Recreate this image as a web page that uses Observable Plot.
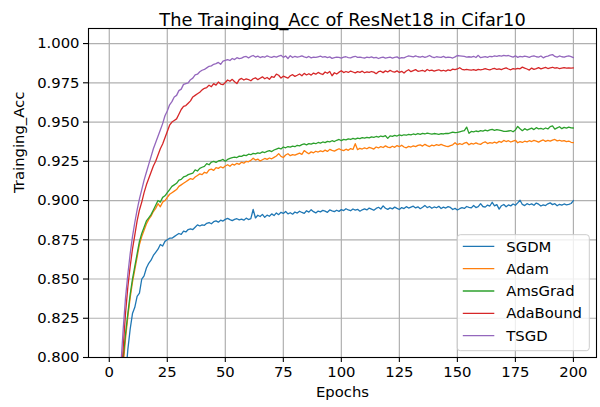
<!DOCTYPE html>
<html><head><meta charset="utf-8">
<script src="https://cdn.jsdelivr.net/npm/d3@7"></script>
<script src="https://cdn.jsdelivr.net/npm/@observablehq/plot@0.6"></script>
<style>html,body{margin:0;padding:0;background:#fff}</style>
</head><body><div id="chart"></div>
<script>
const titleText = "The Trainging_Acc of ResNet18 in Cifar10";
const xLabel = "Epochs";
const yLabel = "Trainging_Acc";
const seriesNames = ["SGDM", "Adam", "AmsGrad", "AdaBound", "TSGD"];
const seriesColors = ["#1f77b4", "#ff7f0e", "#2ca02c", "#d62728", "#9467bd"];
const xTicks = [0, 25, 50, 75, 100, 125, 150, 175, 200];
const yTicks = [0.800, 0.825, 0.850, 0.875, 0.900, 0.925, 0.950, 0.975, 1.000];
const epochs = d3.range(1, 201);

const sgdm = [0.320,0.470,0.580,0.660,0.720,0.760,0.787,0.805,0.818,0.828,
0.832,0.839,0.841,0.850,0.852,0.857,0.860,0.862,0.865,0.867,
0.869,0.872,0.871,0.874,0.875,0.876,0.876,0.877,0.878,0.879,
0.8785,0.8805,0.880,0.8815,0.882,0.8815,0.883,0.8845,0.8838,0.8845,
0.8842,0.8855,0.8860,0.8852,0.8865,0.8870,0.8862,0.8875,0.8869,0.8880,
0.8886,0.8878,0.8872,0.8880,0.8884,0.8877,0.8882,0.8875,0.8888,0.8879,
0.8885,0.8943,0.8889,0.8906,0.8898,0.8912,0.8893,0.8907,0.8900,0.8915,
0.8904,0.8921,0.8910,0.8925,0.8918,0.8930,0.8915,0.8922,0.8913,0.8927,
0.8920,0.8932,0.8924,0.8918,0.8935,0.8926,0.8942,0.8929,0.8921,0.8933,
0.8928,0.8937,0.8932,0.8925,0.8940,0.8934,0.8929,0.8938,0.8931,0.8942,
0.8936,0.8948,0.8940,0.8935,0.8946,0.8939,0.8944,0.8932,0.8941,0.8947,
0.8940,0.8952,0.8945,0.8938,0.8950,0.8957,0.8946,0.8966,0.8951,0.8944,
0.8953,0.8947,0.8958,0.8950,0.8943,0.8955,0.8949,0.8961,0.8952,0.8958,
0.8964,0.8953,0.8960,0.8948,0.8957,0.8969,0.8955,0.8962,0.8951,0.8959,
0.8954,0.8963,0.8949,0.8958,0.8952,0.8961,0.8956,0.8943,0.8950,0.8940,
0.8948,0.8955,0.8950,0.8962,0.8957,0.8953,0.8968,0.8955,0.8961,0.8980,
0.8962,0.8958,0.8971,0.8965,0.8989,0.8966,0.8974,0.8945,0.8967,0.8975,
0.8960,0.8972,0.8966,0.8978,0.8970,0.8985,0.9002,0.8975,0.8968,0.8980,
0.8973,0.8979,0.8970,0.8984,0.8977,0.8965,0.8972,0.8968,0.8979,0.8985,
0.8974,0.8980,0.8967,0.8976,0.8971,0.8978,0.8973,0.8975,0.8981,0.9000];

const adam = [0.360,0.530,0.640,0.710,0.760,0.795,0.812,0.826,0.838,0.848,
0.856,0.864,0.872,0.877,0.881,0.885,0.888,0.890,0.893,0.895,
0.898,0.896,0.899,0.900,0.902,0.904,0.905,0.906,0.907,0.909,
0.910,0.911,0.912,0.913,0.914,0.9135,0.915,0.916,0.917,0.9165,
0.918,0.9175,0.9195,0.9200,0.9192,0.9210,0.9205,0.9215,0.9208,0.9220,
0.9228,0.9218,0.9232,0.9226,0.9237,0.9231,0.9244,0.9238,0.9250,0.9247,
0.9256,0.9270,0.9258,0.9264,0.9252,0.9260,0.9268,0.9262,0.9271,0.9266,
0.9275,0.9284,0.9299,0.9281,0.9274,0.9290,0.9298,0.9286,0.9293,0.9289,
0.9296,0.9302,0.9294,0.9318,0.9307,0.9298,0.9310,0.9304,0.9314,0.9309,
0.9316,0.9311,0.9321,0.9313,0.9326,0.9319,0.9315,0.9323,0.9330,0.9322,
0.9318,0.9327,0.9320,0.9331,0.9325,0.9362,0.9324,0.9333,0.9328,0.9336,
0.9330,0.9339,0.9334,0.9328,0.9341,0.9335,0.9344,0.9338,0.9348,0.9340,
0.9337,0.9346,0.9339,0.9350,0.9343,0.9352,0.9341,0.9336,0.9345,0.9341,
0.9348,0.9343,0.9351,0.9355,0.9347,0.9358,0.9350,0.9344,0.9353,0.9349,
0.9356,0.9351,0.9358,0.9352,0.9347,0.9343,0.9350,0.9355,0.9368,0.9356,
0.9362,0.9357,0.9366,0.9370,0.9355,0.9364,0.9360,0.9367,0.9361,0.9358,
0.9368,0.9374,0.9363,0.9369,0.9365,0.9372,0.9366,0.9377,0.9371,0.9383,
0.9376,0.9381,0.9373,0.9379,0.9384,0.9368,0.9375,0.9370,0.9378,0.9374,
0.9381,0.9376,0.9383,0.9379,0.9372,0.9380,0.9386,0.9377,0.9383,0.9378,
0.9385,0.9389,0.9380,0.9384,0.9378,0.9382,0.9375,0.9379,0.9371,0.9369];

const amsgrad = [0.380,0.550,0.650,0.720,0.770,0.800,0.815,0.828,0.840,0.850,
0.858,0.866,0.874,0.879,0.883,0.887,0.889,0.891,0.894,0.897,
0.900,0.899,0.902,0.903,0.905,0.907,0.909,0.910,0.911,0.913,
0.9135,0.915,0.9155,0.9165,0.917,0.9175,0.9195,0.9188,0.9205,0.9212,
0.9218,0.9235,0.9228,0.9245,0.9250,0.9243,0.9252,0.9255,0.9262,0.9250,
0.9262,0.9268,0.9273,0.9277,0.9274,0.9283,0.9281,0.9289,0.9286,0.9295,
0.9292,0.9300,0.9297,0.9304,0.9301,0.9310,0.9306,0.9313,0.9318,0.9312,
0.9322,0.9328,0.9334,0.9329,0.9341,0.9336,0.9344,0.9340,0.9347,0.9343,
0.9352,0.9348,0.9356,0.9361,0.9355,0.9363,0.9359,0.9366,0.9362,0.9370,
0.9366,0.9373,0.9369,0.9377,0.9374,0.9381,0.9376,0.9384,0.9389,0.9382,
0.9390,0.9386,0.9393,0.9389,0.9396,0.9391,0.9398,0.9395,0.9401,0.9397,
0.9403,0.9399,0.9406,0.9402,0.9408,0.9404,0.9411,0.9407,0.9413,0.9396,
0.9412,0.9409,0.9415,0.9411,0.9418,0.9413,0.9419,0.9416,0.9422,0.9418,
0.9424,0.9420,0.9427,0.9422,0.9428,0.9424,0.9430,0.9426,0.9423,0.9427,
0.9425,0.9421,0.9426,0.9424,0.9428,0.9427,0.9431,0.9436,0.9432,0.9434,
0.9438,0.9442,0.9446,0.9468,0.9428,0.9440,0.9437,0.9443,0.9439,0.9445,
0.9442,0.9448,0.9444,0.9450,0.9453,0.9447,0.9452,0.9449,0.9445,0.9441,
0.9440,0.9443,0.9446,0.9438,0.9450,0.9472,0.9457,0.9445,0.9458,0.9449,
0.9455,0.9461,0.9452,0.9464,0.9457,0.9460,0.9454,0.9462,0.9456,0.9471,
0.9475,0.9455,0.9463,0.9470,0.9458,0.9466,0.9461,0.9468,0.9463,0.9462];

const adabound = [0.430,0.590,0.680,0.740,0.780,0.806,0.828,0.845,0.858,0.869,
0.878,0.887,0.894,0.899,0.905,0.910,0.914,0.918,0.922,0.925,
0.929,0.933,0.936,0.940,0.944,0.948,0.950,0.951,0.952,0.955,
0.958,0.960,0.9605,0.962,0.9635,0.966,0.967,0.968,0.969,0.9705,
0.9715,0.972,0.9735,0.9725,0.9745,0.9735,0.9755,0.9742,0.9738,0.9752,
0.9768,0.9760,0.9772,0.9757,0.9745,0.9770,0.9778,0.9768,0.9775,0.9771,
0.9763,0.9776,0.9782,0.9770,0.9779,0.9788,0.9776,0.9784,0.9772,0.9790,
0.9785,0.9805,0.9798,0.9780,0.9792,0.9786,0.9780,0.9795,0.9802,0.9791,
0.9798,0.9806,0.9795,0.9810,0.9800,0.9808,0.9799,0.9812,0.9805,0.9816,
0.9809,0.9803,0.9819,0.9811,0.9822,0.9795,0.9814,0.9806,0.9818,0.9827,
0.9815,0.9822,0.9816,0.9825,0.9819,0.9813,0.9821,0.9817,0.9824,0.9814,
0.9820,0.9816,0.9822,0.9818,0.9808,0.9821,0.9824,0.9815,0.9826,0.9819,
0.9829,0.9822,0.9818,0.9826,0.9816,0.9823,0.9812,0.9825,0.9833,0.9821,
0.9828,0.9834,0.9823,0.9826,0.9830,0.9822,0.9835,0.9827,0.9831,0.9824,
0.9829,0.9833,0.9826,0.9830,0.9825,0.9832,0.9828,0.9837,0.9834,0.9838,
0.9846,0.9836,0.9832,0.9835,0.9833,0.9831,0.9834,0.9829,0.9836,0.9833,
0.9835,0.9840,0.9836,0.9833,0.9838,0.9842,0.9835,0.9839,0.9834,0.9841,
0.9845,0.9838,0.9833,0.9840,0.9837,0.9842,0.9839,0.9850,0.9843,0.9838,
0.9831,0.9844,0.9836,0.9841,0.9847,0.9839,0.9844,0.9848,0.9841,0.9845,
0.9849,0.9843,0.9846,0.9841,0.9844,0.9847,0.9843,0.9845,0.9844,0.9845];

const tsgd = [0.460,0.620,0.700,0.755,0.795,0.818,0.838,0.853,0.866,0.877,
0.886,0.894,0.901,0.907,0.913,0.918,0.923,0.928,0.933,0.937,
0.941,0.945,0.949,0.954,0.957,0.961,0.963,0.966,0.967,0.970,
0.971,0.974,0.9745,0.975,0.977,0.978,0.980,0.9805,0.982,0.983,
0.9835,0.9845,0.9855,0.9858,0.9868,0.9872,0.988,0.9868,0.9888,0.9893,
0.9898,0.9892,0.9905,0.9898,0.9910,0.9904,0.9907,0.9915,0.9918,0.9909,
0.9918,0.9924,0.9914,0.9920,0.9911,0.9917,0.9913,0.9922,0.9916,0.9912,
0.9918,0.9914,0.9920,0.9925,0.9912,0.9921,0.9905,0.9923,0.9911,0.9919,
0.9913,0.9917,0.9922,0.9915,0.9911,0.9918,0.9909,0.9914,0.9912,0.9916,
0.9920,0.9913,0.9917,0.9911,0.9915,0.9906,0.9910,0.9914,0.9912,0.9907,
0.9913,0.9916,0.9911,0.9909,0.9915,0.9919,0.9912,0.9914,0.9910,0.9908,
0.9913,0.9911,0.9915,0.9909,0.9912,0.9905,0.9911,0.9914,0.9907,0.9910,
0.9913,0.9908,0.9912,0.9915,0.9906,0.9911,0.9909,0.9916,0.9921,0.9919,
0.9915,0.9921,0.9916,0.9913,0.9918,0.9912,0.9917,0.9924,0.9915,0.9911,
0.9916,0.9914,0.9912,0.9918,0.9910,0.9914,0.9912,0.9908,0.9915,0.9924,
0.9922,0.9920,0.9918,0.9914,0.9916,0.9913,0.9919,0.9911,0.9925,0.9910,
0.9914,0.9917,0.9912,0.9919,0.9916,0.9921,0.9918,0.9923,0.9920,0.9925,
0.9922,0.9924,0.9919,0.9914,0.9922,0.9912,0.9918,0.9915,0.9920,0.9917,
0.9912,0.9919,0.9922,0.9916,0.9914,0.9921,0.9909,0.9917,0.9920,0.9926,
0.9930,0.9918,0.9914,0.9921,0.9916,0.9913,0.9919,0.9922,0.9917,0.9910];

const seriesValues = [sgdm, adam, amsgrad, adabound, tsgd];
const rows = [];
seriesNames.forEach((name, i) => {
  seriesValues[i].forEach((v, j) => rows.push({epoch: epochs[j], acc: v, series: name}));
});

const W = 600, H = 407;
const mL = 88, mR = 4, mT = 28, mB = 50;
const font = "DejaVu Sans";
const fs = 14.8;

const plot = Plot.plot({
  width: W, height: H,
  marginLeft: mL, marginRight: mR, marginTop: mT, marginBottom: mB,
  style: {fontFamily: font, fontSize: fs + "px", background: "#fff", color: "#000", overflow: "visible"},
  x: {domain: [-8.95, 209.95]},
  y: {domain: [0.8, 1.0096]},
  color: {domain: seriesNames, range: seriesColors},
  marks: [
    Plot.gridX(xTicks, {stroke: "#b0b0b0", strokeOpacity: 1, strokeWidth: 1.2}),
    Plot.gridY(yTicks, {stroke: "#b0b0b0", strokeOpacity: 1, strokeWidth: 1.2}),
    Plot.line(rows, {x: "epoch", y: "acc", z: "series", stroke: "series", strokeWidth: 1.3, clip: true}),
    Plot.frame({stroke: "#000", strokeWidth: 1.1}),
    Plot.axisX(xTicks, {tickSize: 5, tickPadding: 4, tickFormat: d => String(d), label: null, fontSize: fs, strokeWidth: 1.1}),
    Plot.axisY(yTicks, {tickSize: 5, tickPadding: 4, tickFormat: d3.format(".3f"), label: null, fontSize: fs, strokeWidth: 1.1}),
    Plot.text([titleText], {frameAnchor: "top", dy: -15, fontSize: 17.8, text: d => d, fill: "#000"}),
    Plot.text([xLabel], {frameAnchor: "bottom", dy: 39, fontSize: fs, text: d => d, fill: "#000"}),
    Plot.text([yLabel], {frameAnchor: "left", dx: -69, rotate: -90, fontSize: fs, text: d => d, fill: "#000"})
  ]
});
document.getElementById("chart").appendChild(plot);

// Legend (lower right, inside the frame)
const svg = d3.select(plot);
const frameR = W - mR, frameB = H - mB;
const boxW = 132, boxH = 116;
const bx = frameR - 6.7 - boxW, by = frameB - 6.3 - boxH;
const lg = svg.append("g").attr("font-family", font).attr("font-size", fs).attr("text-anchor", "start");
lg.append("rect").attr("x", bx).attr("y", by).attr("width", boxW).attr("height", boxH)
  .attr("rx", 3).attr("fill", "#fff").attr("fill-opacity", 0.8).attr("stroke", "#cccccc").attr("stroke-width", 1);
seriesNames.forEach((name, i) => {
  const yy = by + 11.7 + i * 22.3;
  lg.append("line").attr("x1", bx + 5.5).attr("x2", bx + 37).attr("y1", yy).attr("y2", yy)
    .attr("stroke", seriesColors[i]).attr("stroke-width", 1.3);
  lg.append("text").attr("x", bx + 49).attr("y", yy).attr("dy", "0.35em").attr("text-anchor", "start").attr("fill", "#000").text(name);
});
</script>
</body></html>
